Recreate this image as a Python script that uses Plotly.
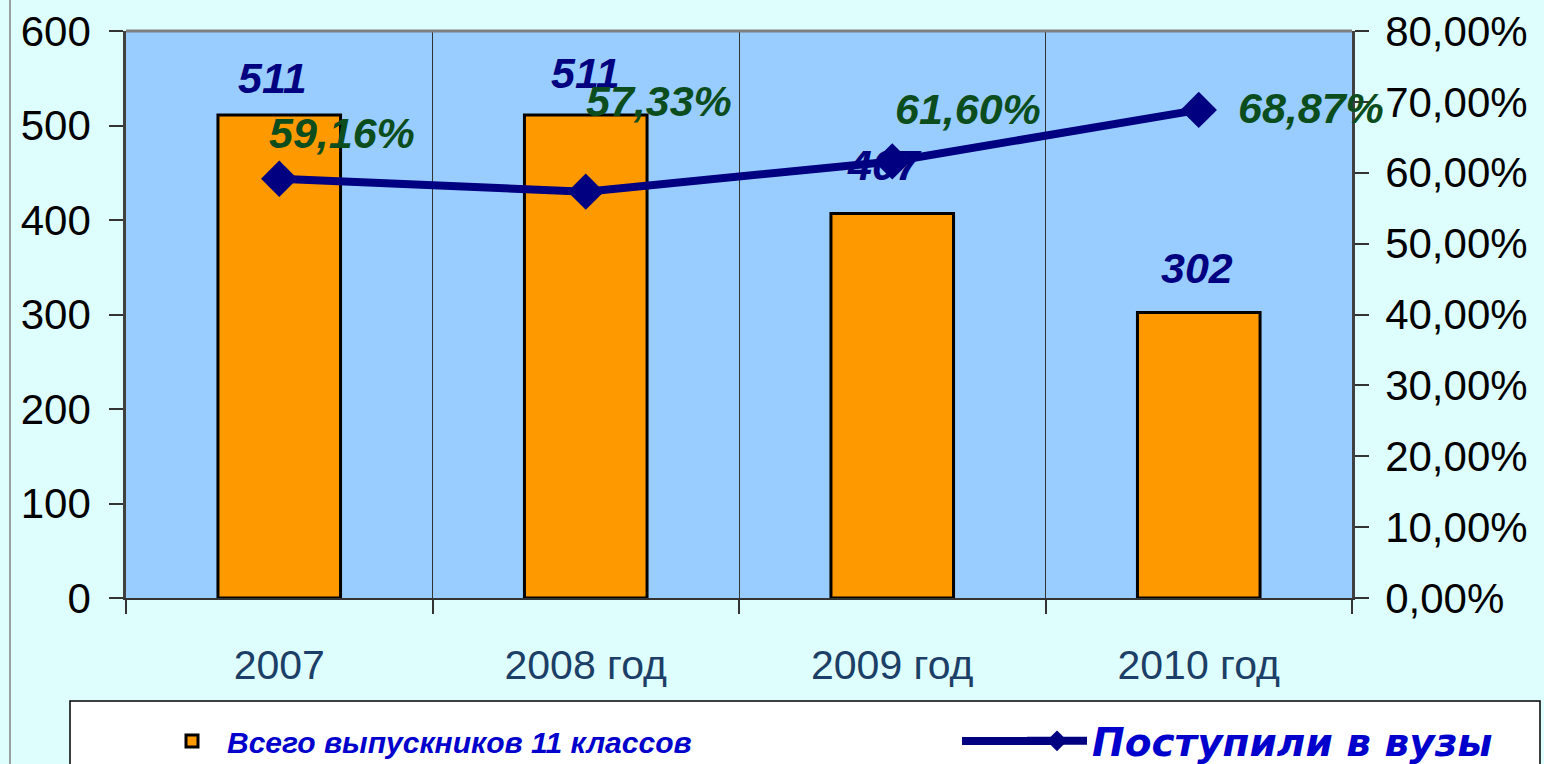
import plotly.graph_objects as go

categories = ["2007", "2008 год", "2009 год", "2010 год"]
graduates = [511, 511, 407, 302]
admitted_pct = [59.16, 57.33, 61.60, 68.87]

bar_name = "Всего выпускников 11 классов"
line_name = "Поступили в вузы"

FONT = "Liberation Sans, Arial, sans-serif"
NAVY = "#000080"
GREEN = "#0b4d1c"
BLUE_TXT = "#0000cc"

W, H = 1544, 764
ML, MR, MT, MB = 126, 192, 31, 166
PW, PH = W - ML - MR, H - MT - MB

def px_x(p):
    return (p - ML) / PW

def px_y(p):
    return (H - MB - p) / PH

fig = go.Figure()
fig.add_trace(go.Bar(
    x=categories, y=graduates, name=bar_name, width=0.4,
    marker=dict(color="#ff9900", line=dict(color="black", width=3)),
    legend="legend",
))
fig.add_trace(go.Scatter(
    x=categories, y=[v / 100 for v in admitted_pct], name=line_name,
    yaxis="y2", mode="lines+markers",
    line=dict(color=NAVY, width=8),
    marker=dict(symbol="diamond", size=28, color=NAVY),
    legend="legend2",
))

annotations = []
bar_shift_y = [37, 42, 48, 45]
bar_shift_x = [-7, 0, -8, -2]
for i, (v, dy, dx) in enumerate(zip(graduates, bar_shift_y, bar_shift_x)):
    annotations.append(dict(
        x=i, y=v, xref="x", yref="y", text=str(v), showarrow=False,
        yanchor="middle", xanchor="center", yshift=dy, xshift=dx,
        font=dict(family=FONT, size=43, color=NAVY, weight="bold", style="italic"),
    ))
pct_shift = [(63, 46), (73, 91), (76, 52), (112, 2)]
for i, (v, (dx, dy)) in enumerate(zip(admitted_pct, pct_shift)):
    annotations.append(dict(
        x=i, y=v / 100, xref="x", yref="y2",
        text=f"{v:.2f}%".replace(".", ","), showarrow=False,
        yanchor="middle", xanchor="center", xshift=dx, yshift=dy,
        font=dict(family=FONT, size=43, color=GREEN, weight="bold", style="italic"),
    ))

LEG_Y = 741

shapes = [
    dict(type="line", xref="paper", yref="paper", x0=0, x1=1, y0=1, y1=1,
         line=dict(color="#808080", width=3)),
    dict(type="line", xref="paper", yref="paper", x0=px_x(10), x1=px_x(10),
         y0=px_y(-5), y1=px_y(770), line=dict(color="#808080", width=1.5)),
    dict(type="rect", xref="paper", yref="paper", x0=px_x(70), x1=px_x(1540),
         y0=px_y(780), y1=px_y(701), fillcolor="white",
         line=dict(color="black", width=1.5), layer="above"),
    # longer legend line sample, as in the original
    dict(type="line", xref="paper", yref="paper", x0=px_x(962), x1=px_x(1060),
         y0=px_y(LEG_Y), y1=px_y(LEG_Y), line=dict(color=NAVY, width=8), layer="above"),
]

def leg_font(size, family=FONT):
    return dict(family=family, size=size, color=BLUE_TXT, weight="bold", style="italic")

fig.update_layout(
    width=W, height=H,
    margin=dict(l=ML, r=MR, t=MT, b=MB, autoexpand=False),
    paper_bgcolor="#defdfd",
    plot_bgcolor="#99ccff",
    separators=", ",
    showlegend=True,
    legend=dict(orientation="h", xref="container", yref="container",
                x=157 / W, y=1 - LEG_Y / H, xanchor="left", yanchor="middle",
                bgcolor="rgba(0,0,0,0)", font=leg_font(30), itemwidth=60),
    legend2=dict(orientation="h", xref="container", yref="container",
                 x=1022 / W, y=1 - LEG_Y / H, xanchor="left", yanchor="middle",
                 bgcolor="rgba(0,0,0,0)", font=leg_font(39, "DejaVu Sans, sans-serif"), itemwidth=60),
    xaxis=dict(
        type="category", tickson="boundaries", showgrid=True, gridcolor="#333333", gridwidth=1,
        ticks="outside", ticklen=14, tickcolor="#333333", tickwidth=1.5,
        showline=True, linecolor="#333333", linewidth=2,
        tickfont=dict(family=FONT, size=41, color="#1b3f66"),
        ticklabelstandoff=30, automargin=False,
        range=[-0.5, 3.5],
    ),
    yaxis=dict(
        range=[0, 600], dtick=100, showgrid=False, zeroline=False,
        ticks="outside", ticklen=14, tickcolor="#333333", tickwidth=1.5,
        showline=True, linecolor="#404040", linewidth=2.5,
        tickfont=dict(family=FONT, size=42, color="black"),
        ticklabelstandoff=10, automargin=False,
    ),
    yaxis2=dict(
        overlaying="y", side="right", range=[0, 0.8], dtick=0.1, tickformat=".2%",
        showgrid=False, zeroline=False,
        ticks="outside", ticklen=14, tickcolor="#333333", tickwidth=1.5,
        showline=True, linecolor="#404040", linewidth=2.5,
        tickfont=dict(family=FONT, size=42, color="black"),
        ticklabelstandoff=8, automargin=False,
    ),
    annotations=annotations,
    shapes=shapes,
)

fig.write_html(
    "out.html",
    config={"displayModeBar": False},
    post_script="document.body.style.margin='0px';document.body.style.overflow='hidden';",
)
